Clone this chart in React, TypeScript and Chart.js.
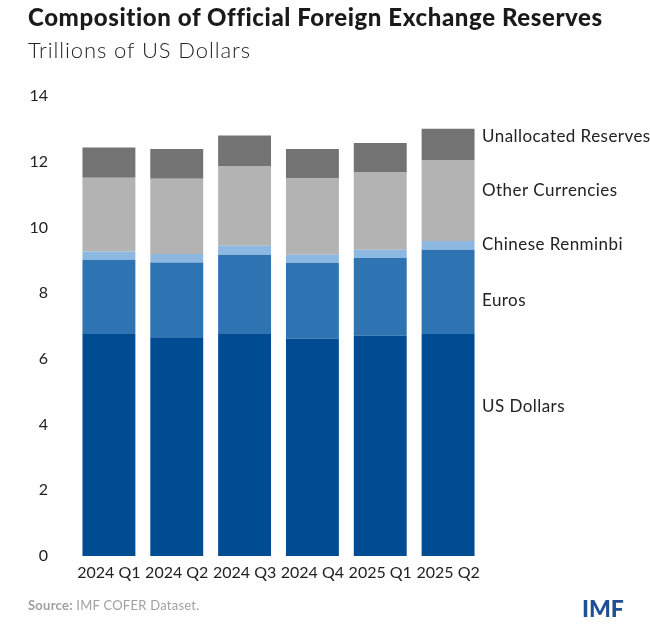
import React, { useEffect, useRef } from "react";
import { Chart, registerables } from "chart.js";

Chart.register(...registerables);

const categories = ["2024 Q1", "2024 Q2", "2024 Q3", "2024 Q4", "2025 Q1", "2025 Q2"];
const usDollars = [6.76, 6.66, 6.78, 6.62, 6.70, 6.76];
const euros = [2.26, 2.27, 2.39, 2.30, 2.37, 2.56];
const renminbi = [0.25, 0.26, 0.27, 0.25, 0.25, 0.27];
const otherCurrencies = [2.24, 2.29, 2.43, 2.32, 2.35, 2.45];
const unallocated = [0.92, 0.91, 0.93, 0.90, 0.90, 0.96];
const seriesNames = ["US Dollars", "Euros", "Chinese Renminbi", "Other Currencies", "Unallocated Reserves"];
const yTicks = [0, 2, 4, 6, 8, 10, 12, 14];

const FONT = "Lato, 'Open Sans', sans-serif";

const sideLabels = {
  id: "sideLabels",
  afterDraw(chart: any) {
    const { ctx, chartArea, scales } = chart;
    const anchors = [4.54, 7.77, 9.47, 11.12, 12.76];
    ctx.save();
    ctx.font = `17px ${FONT}`;
    (ctx as any).letterSpacing = "0.45px";
    ctx.fillStyle = "#222";
    ctx.textAlign = "left";
    ctx.textBaseline = "middle";
    seriesNames.forEach((name, i) => {
      ctx.fillText(name, chartArea.right, scales.y.getPixelForValue(anchors[i]));
    });
    ctx.restore();
  },
};

export default function App() {
  const ref = useRef<HTMLCanvasElement>(null);
  useEffect(() => {
    document.body.style.margin = "0";
    const chart = new Chart(ref.current!, {
      type: "bar",
      data: {
        labels: categories,
        datasets: [
          { label: seriesNames[0], data: usDollars, backgroundColor: "#004C93" },
          { label: seriesNames[1], data: euros, backgroundColor: "#2E74B3" },
          { label: seriesNames[2], data: renminbi, backgroundColor: "#8DB8E1" },
          { label: seriesNames[3], data: otherCurrencies, backgroundColor: "#B3B3B3" },
          { label: seriesNames[4], data: unallocated, backgroundColor: "#737373" },
        ],
      },
      options: {
        animation: false,
        responsive: false,
        devicePixelRatio: 1,
        layout: { padding: { top: 96, right: 168, bottom: 0, left: 0 } },
        plugins: { legend: { display: false }, tooltip: { enabled: false } },
        datasets: { bar: { barPercentage: 1, categoryPercentage: 0.78 } },
        scales: {
          x: {
            stacked: true,
            grid: { display: false, drawTicks: false },
            border: { display: false },
            ticks: { color: "#222", font: { family: FONT, size: 16 }, padding: 7, maxRotation: 0 },
            afterFit: (s: any) => { s.height = 74; },
          },
          y: {
            stacked: true,
            min: 0,
            max: 14,
            grid: { display: false, drawTicks: false },
            border: { display: false },
            afterBuildTicks: (s: any) => { s.ticks = yTicks.map((v) => ({ value: v })); },
            ticks: { color: "#222", font: { family: FONT, size: 16 }, padding: 27 },
            afterFit: (s: any) => { s.width = 75; },
          },
        },
      },
      plugins: [sideLabels],
    });
    return () => chart.destroy();
  }, []);

  return (
    <div style={{ position: "relative", width: 650, height: 630, fontFamily: FONT, background: "#fff" }}>
      <canvas ref={ref} width={650} height={630} style={{ position: "absolute", left: 0, top: 0 }} />
      <div style={{ position: "absolute", left: 28, top: 2, fontSize: 24, fontWeight: 900, letterSpacing: 0.6, color: "#1a1a1a", whiteSpace: "nowrap" }}>
        Composition of Official Foreign Exchange Reserves
      </div>
      <div style={{ position: "absolute", left: 28, top: 36, fontSize: 22, fontWeight: 300, letterSpacing: 0.9, color: "#222", whiteSpace: "nowrap" }}>
        Trillions of US Dollars
      </div>
      <div style={{ position: "absolute", left: 28, top: 597, fontSize: 13, letterSpacing: 0.25, color: "#a0a0a0", whiteSpace: "nowrap" }}>
        <span style={{ fontWeight: 700 }}>Source:</span> IMF COFER Dataset.
      </div>
      <div style={{ position: "absolute", left: 582, top: 594, fontSize: 23, fontWeight: 900, color: "#1f4f96", letterSpacing: 0 }}>
        IMF
      </div>
    </div>
  );
}
